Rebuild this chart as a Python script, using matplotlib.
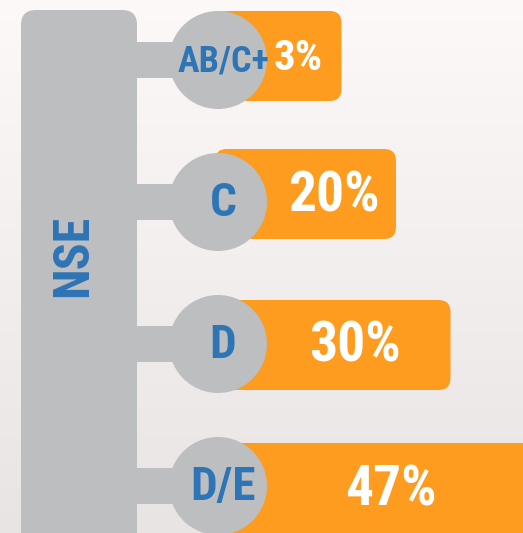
import numpy as np
import matplotlib
matplotlib.use("Agg")
import matplotlib.pyplot as plt
from matplotlib.patches import FancyBboxPatch, Circle, Rectangle

# data
groups = ["AB/C+", "C", "D", "D/E"]
shares = [3, 20, 30, 47]
axis_title = "NSE"

GRAY = "#bdbec0"
ORANGE = "#fd9c1f"
BLUE = "#2e75b6"
FONT = ["Roboto Condensed", "Liberation Sans Narrow", "Liberation Sans"]

W, H = 523, 533
fig = plt.figure(figsize=(W / 100, H / 100), dpi=100)
ax = fig.add_axes([0, 0, 1, 1])
ax.set_xlim(0, W)
ax.set_ylim(H, 0)
ax.axis("off")

# soft vertical background gradient
grad = np.linspace(0, 1, 256).reshape(-1, 1)
cols = np.array([[0.995, 0.975, 0.975], [0.915, 0.895, 0.895]])
img = cols[0] + grad[..., None] * (cols[1] - cols[0])
ax.imshow(img, extent=[0, W, H, 0], aspect="auto", zorder=0)

# vertical gray spine
ax.add_patch(FancyBboxPatch((21 + 15, 10 + 15), 116 - 30, 540, boxstyle="round,pad=15",
                            fc=GRAY, ec="none", zorder=1))
ax.text(74, 256, axis_title, rotation=90, ha="center", va="center", color=BLUE,
        fontsize=36, fontweight="bold", family=FONT, zorder=5)

bar_y = [56, 194, 345, 488]   # vertical centre of each orange bar (layout)
x0 = 215          # left edge of orange bars (hidden by circle)
px_per_pct = 5.45
min_pct = 10      # short bars keep room for the label
cx = 218

for i, (g, v) in enumerate(zip(groups, shares)):
    yc = bar_y[i]
    length = 72 + px_per_pct * max(v, min_pct)
    r = 12
    ax.add_patch(FancyBboxPatch((x0 + r, yc - 45 + r), length - 2 * r, 90 - 2 * r,
                                boxstyle="round,pad=%d" % r, fc=ORANGE, ec="none", zorder=2))
    cy = 60 + i * 142
    ax.add_patch(Rectangle((130, cy - 18), cx - 130, 36, fc=GRAY, ec="none", zorder=3))
    ax.add_patch(Circle((cx, cy), 49, fc=GRAY, ec="none", zorder=3))
    fs = 26 if len(g) > 3 else 34
    ax.text(cx + 5, cy + 1, g, ha="center", va="center", color=BLUE, fontsize=fs,
            fontweight="bold", family=FONT, zorder=5)
    lx = 292 + 2.11 * v
    ax.text(lx, yc + 2, "%d%%" % v, ha="center", va="center", color="white",
            fontsize=31 if v < 10 else 40, fontweight="bold", family=FONT, zorder=5)

fig.savefig("out.png", dpi=100)
